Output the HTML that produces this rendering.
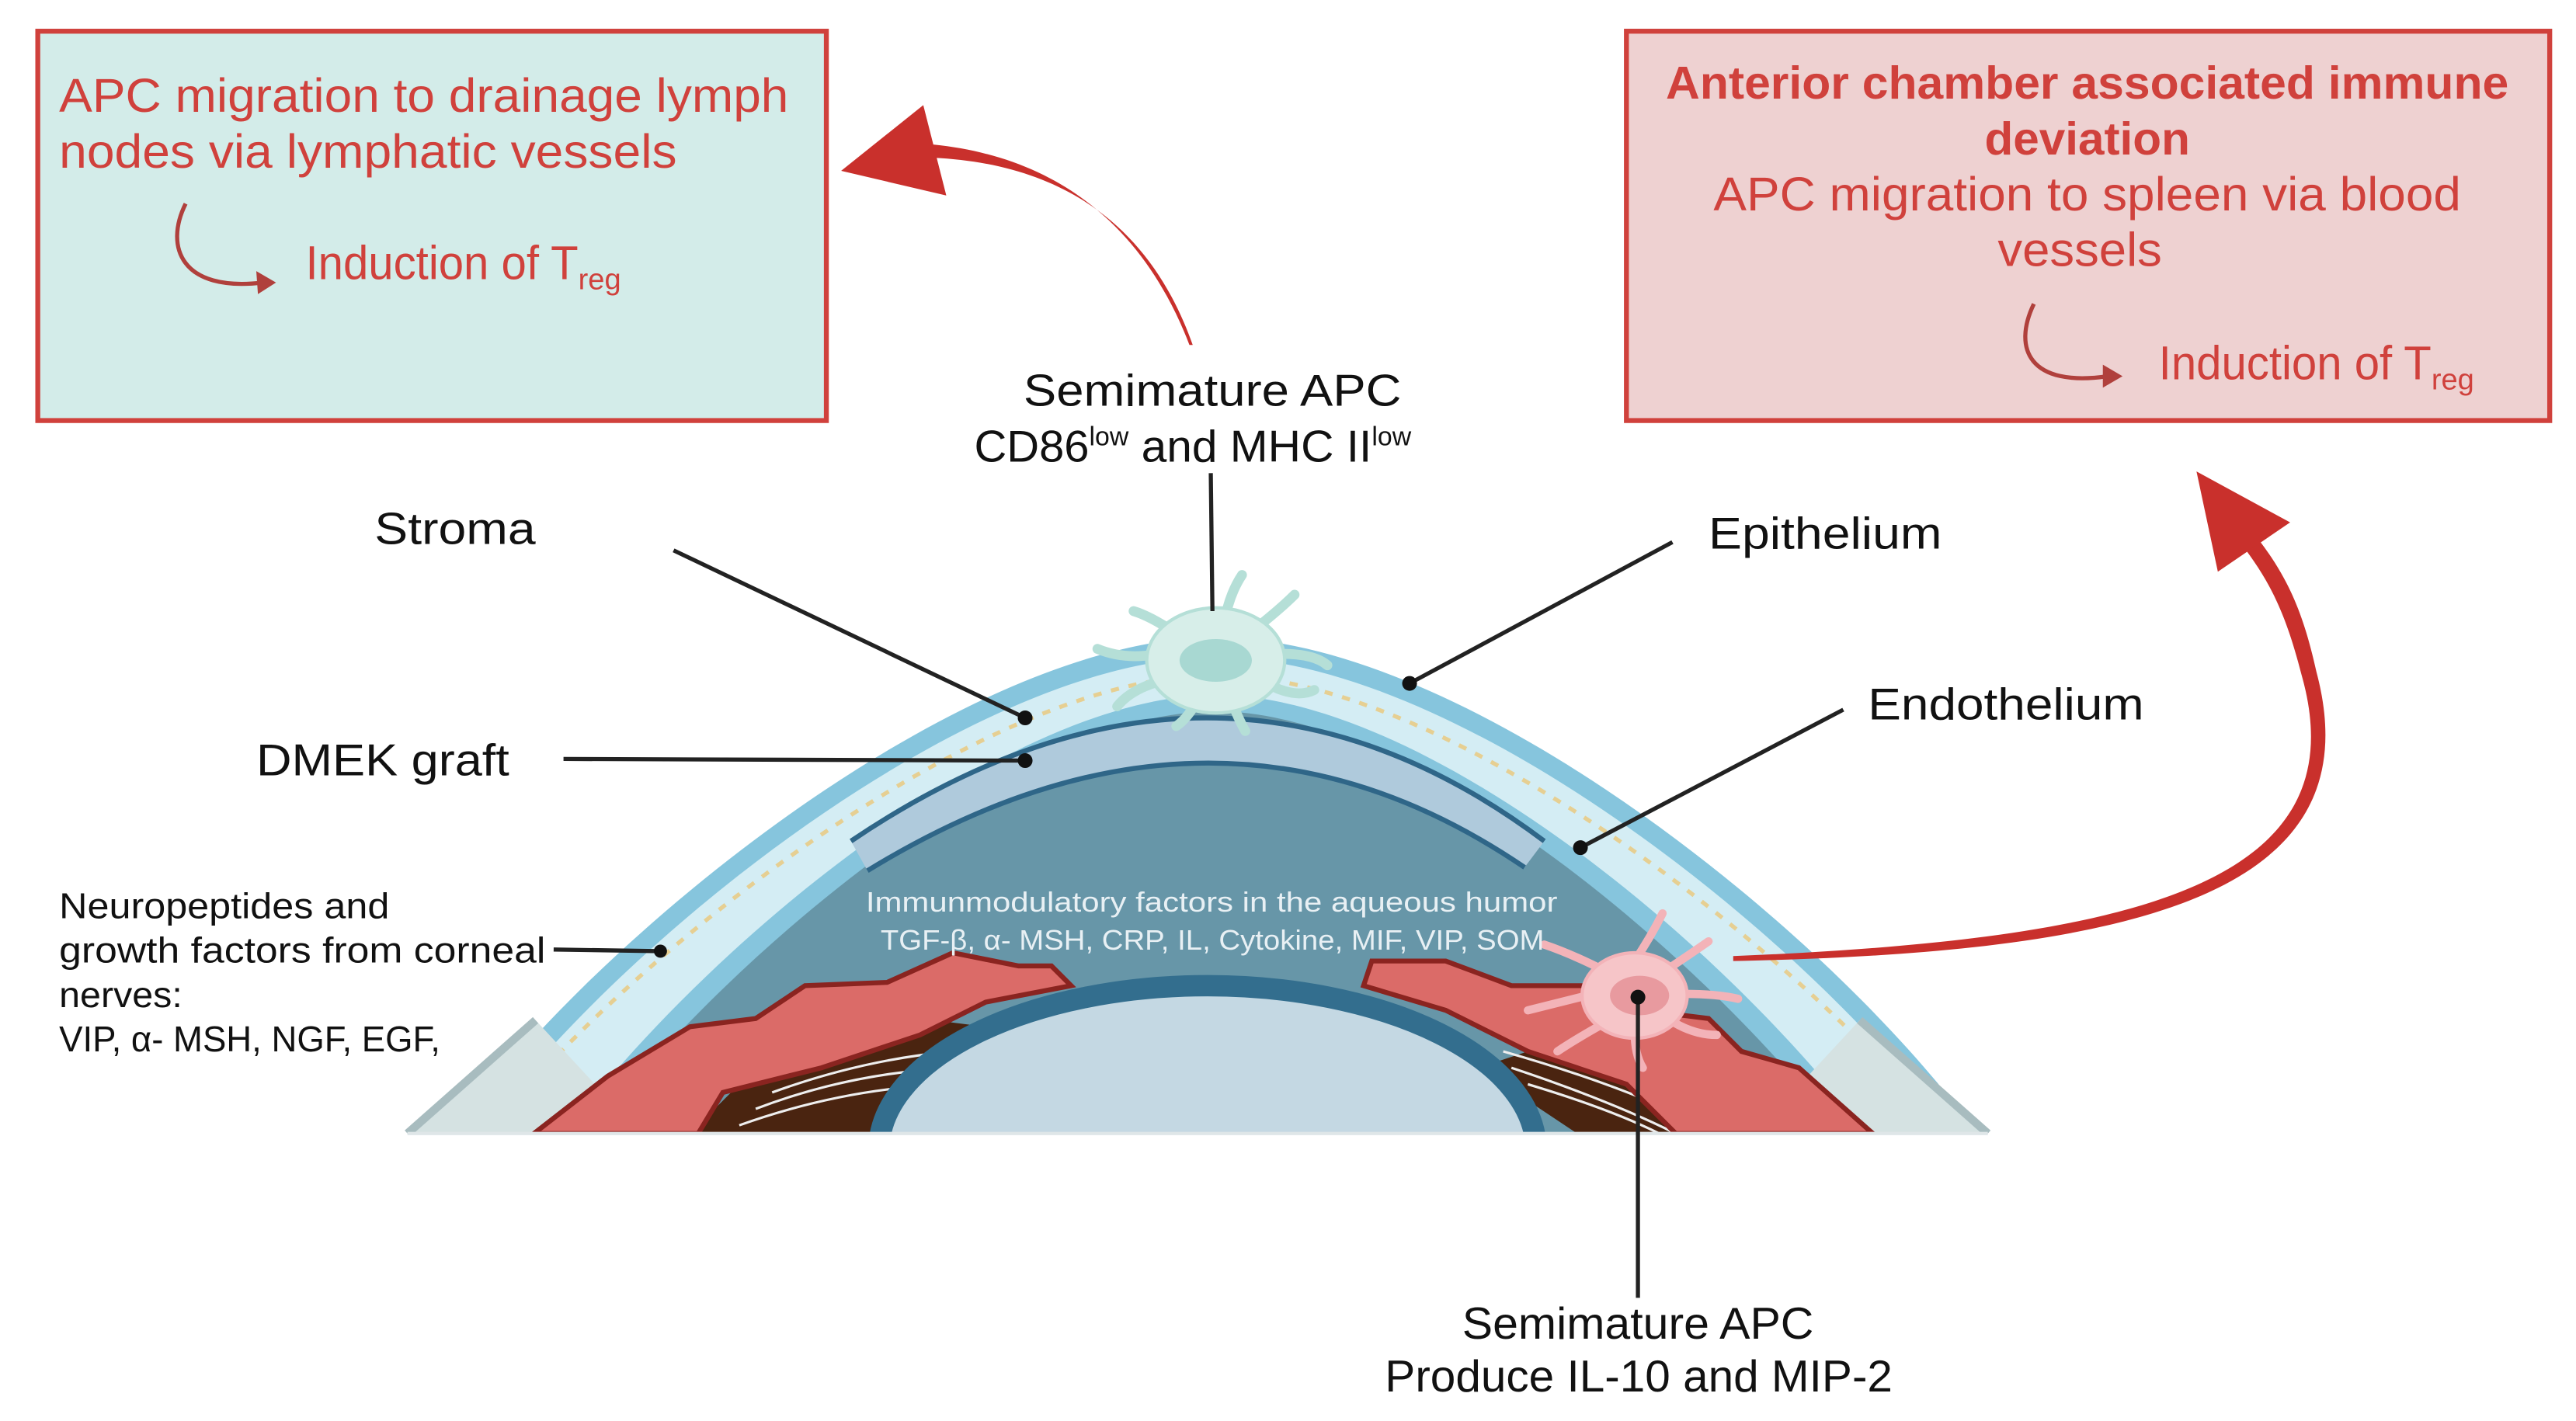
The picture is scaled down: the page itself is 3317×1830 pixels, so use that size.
<!DOCTYPE html>
<html><head><meta charset="utf-8"><style>
html,body{margin:0;padding:0;background:#fff;}
svg{display:block;}
text{font-family:"Liberation Sans",sans-serif;}
</style></head><body>
<svg width="3317" height="1830" viewBox="0 0 1568 865" preserveAspectRatio="none" xmlns="http://www.w3.org/2000/svg">
<defs>
<clipPath id="base"><rect x="0" y="0" width="1568" height="690"/></clipPath>
</defs>
<!-- Boxes -->
<rect x="23" y="19" width="480" height="237" fill="#d3ece9" stroke="#d0413c" stroke-width="3"/>
<text x="36" y="68" font-size="29" fill="#d0413c" textLength="444" lengthAdjust="spacingAndGlyphs">APC migration to drainage lymph</text>
<text x="36" y="102" font-size="29" fill="#d0413c" textLength="376" lengthAdjust="spacingAndGlyphs">nodes via lymphatic vessels</text>
<path d="M113,124 C100,150 110,178 160,172" fill="none" stroke="#b0403c" stroke-width="2.5"/>
<polygon points="168,172 156,165 157,179" fill="#b0403c"/>
<text x="186" y="170" font-size="29" fill="#d0413c"><tspan textLength="166" lengthAdjust="spacingAndGlyphs">Induction of T</tspan><tspan font-size="18" dy="6">reg</tspan></text>

<rect x="990" y="19" width="562" height="237" fill="#eed1d1" stroke="#d0413c" stroke-width="3"/>
<text x="1014" y="60" font-size="28" fill="#d0413c" font-weight="bold" textLength="513" lengthAdjust="spacingAndGlyphs">Anterior chamber associated immune</text>
<text x="1208" y="94" font-size="28" fill="#d0413c" font-weight="bold" textLength="125" lengthAdjust="spacingAndGlyphs">deviation</text>
<text x="1043" y="128" font-size="29" fill="#d0413c" textLength="455" lengthAdjust="spacingAndGlyphs">APC migration to spleen via blood</text>
<text x="1216" y="162" font-size="29" fill="#d0413c" textLength="100" lengthAdjust="spacingAndGlyphs">vessels</text>
<path d="M1238,185 C1225,212 1235,236 1283,229" fill="none" stroke="#b0403c" stroke-width="2.5"/>
<polygon points="1292,229 1280,222 1280,236" fill="#b0403c"/>
<text x="1314" y="231" font-size="29" fill="#d0413c"><tspan textLength="166" lengthAdjust="spacingAndGlyphs">Induction of T</tspan><tspan font-size="18" dy="6">reg</tspan></text>

<!-- Top arrow (tapered) -->
<path d="M724,210 C698,142 648,96 568,88 L568,96 C652,100 702,142 726,210 Z" fill="#c9302c"/>
<polygon points="512,104 562,64 576,119" fill="#c9302c"/>

<!-- Eye -->
<g clip-path="url(#base)">
<path d="M300,660 C400,540 600,388 740,388 C880,388 1080,540 1180,660 L1180,700 L300,700 Z" fill="#86c5dd"/>
<path d="M314,662 C412,545 605,400 740,400 C875,400 1068,545 1166,662 L1166,700 L314,700 Z" fill="#d4edf4"/>
<path d="M332,650 C428,548 612,411 740,411 C868,411 1052,548 1148,650" fill="none" stroke="#e6cf92" stroke-width="2.5" stroke-dasharray="5,6"/>
<path d="M336,700 C430,572 615,423 740,423 C865,423 1050,572 1144,700 Z" fill="#86c5dd"/>
<path d="M352,700 C445,578 620,433 740,433 C860,433 1035,578 1128,700 Z" fill="#6796a8"/>
<polygon points="248,690 326,621 364,662 345,690" fill="#d5e2e2"/>
<line x1="248" y1="690" x2="326" y2="621" stroke="#a8bcbf" stroke-width="5"/>
<polygon points="1210,690 1132,621 1094,662 1115,690" fill="#d5e2e2"/>
<line x1="1210" y1="690" x2="1132" y2="621" stroke="#a8bcbf" stroke-width="5"/>
<path d="M518,512 Q740,362 940,512 L928,528 Q740,400 528,530 Z" fill="#afcadc"/>
<path d="M518,512 Q740,362 940,512" fill="none" stroke="#2f6688" stroke-width="3"/>
<path d="M528,530 Q740,400 928,528" fill="none" stroke="#2f6688" stroke-width="3"/>
<path d="M420,690 L450,660 L520,640 L560,620 L600,625 L640,610 L650,650 L560,690 Z" fill="#4a2410"/>
<path d="M1060,690 L1040,650 L990,630 L930,640 L900,650 L960,690 Z" fill="#4a2410"/>
<g stroke="#eee" stroke-width="1.5" fill="none">
<path d="M450,685 Q520,660 590,660"/><path d="M460,675 Q520,652 585,650"/><path d="M470,665 Q525,645 580,640"/>
<path d="M920,650 Q980,670 1020,690"/><path d="M930,660 Q980,675 1010,690"/><path d="M915,640 Q985,660 1030,682"/>
</g>
<path d="M325,690 L370,655 L420,625 L460,620 L490,600 L540,598 L580,580 L620,588 L640,588 L652,600 L600,610 L560,630 L500,650 L440,665 L425,690 Z" fill="#db6b68" stroke="#8a2420" stroke-width="3"/>
<path d="M1140,690 L1095,650 L1060,640 L1040,620 L1000,615 L965,600 L920,600 L880,585 L835,585 L830,600 L880,615 L930,640 L990,660 L1020,690 Z" fill="#db6b68" stroke="#8a2420" stroke-width="3"/>
<ellipse cx="735" cy="700" rx="200" ry="100" fill="#c4d8e3" stroke="#336e8e" stroke-width="13"/>
</g>
<line x1="248" y1="690" x2="1210" y2="690" stroke="#dfe6e8" stroke-width="2"/>

<!-- Right arrow (tapered, over cornea) -->
<path d="M1055,582 C1300,572 1437,538 1401,411 C1391,372 1381,352 1361,327 L1369,321 C1390,347 1401,368 1410,409 C1446,544 1302,580 1055,585 Z" fill="#c9302c"/>
<polygon points="1337,287 1394,318 1350,348" fill="#c9302c"/>

<!-- Teal APC -->
<g stroke="#b5dfd7" stroke-width="6" stroke-linecap="round" fill="none">
<path d="M745,380 Q748,362 756,350"/><path d="M765,382 Q780,370 788,362"/><path d="M780,398 Q800,398 808,405"/>
<path d="M715,385 Q700,375 690,372"/><path d="M705,398 Q685,402 668,395"/><path d="M705,415 Q688,420 680,430"/>
<path d="M750,428 Q755,440 758,445"/><path d="M775,418 Q790,425 800,420"/><path d="M728,428 Q722,438 716,442"/>
</g>
<ellipse cx="740" cy="402" rx="42" ry="32" fill="#d7eee9" stroke="#b5dfd7" stroke-width="2"/>
<ellipse cx="740" cy="402" rx="22" ry="13" fill="#a8d8d2"/>
<!-- Pink APC -->
<g stroke="#f3b3b8" stroke-width="5" stroke-linecap="round" fill="none">
<path d="M995,585 Q1005,570 1012,556"/><path d="M1015,590 Q1030,580 1040,573"/><path d="M1025,605 Q1045,605 1058,608"/>
<path d="M975,590 Q955,580 940,575"/><path d="M970,605 Q950,610 930,615"/><path d="M978,622 Q960,632 948,640"/>
<path d="M995,628 Q995,642 1000,650"/><path d="M1015,620 Q1030,630 1045,630"/>
</g>
<ellipse cx="995" cy="606" rx="32" ry="26" fill="#f6c5c8" stroke="#f3b3b8" stroke-width="2"/>
<ellipse cx="998" cy="606" rx="18" ry="12" fill="#e89a9f"/>

<text x="527" y="555" font-size="17" fill="#e8f0f4" textLength="421" lengthAdjust="spacingAndGlyphs">Immunmodulatory factors in the aqueous humor</text>
<text x="536" y="578" font-size="17" fill="#e8f0f4" textLength="404" lengthAdjust="spacingAndGlyphs">TGF-β, α- MSH, CRP, IL, Cytokine, MIF, VIP, SOM</text>

<!-- Labels & leader lines -->
<g stroke="#222" stroke-width="2.5">
<line x1="737" y1="288" x2="738" y2="372"/>
<line x1="410" y1="335" x2="624" y2="437"/>
<line x1="1018" y1="330" x2="858" y2="416"/>
<line x1="1122" y1="432" x2="962" y2="516"/>
<line x1="343" y1="462" x2="624" y2="463"/>
<line x1="337" y1="578" x2="402" y2="579"/>
<line x1="997" y1="607" x2="997" y2="790"/>
</g>
<g fill="#111">
<circle cx="624" cy="437" r="4.5"/><circle cx="858" cy="416" r="4.5"/><circle cx="962" cy="516" r="4.5"/>
<circle cx="624" cy="463" r="4.5"/><circle cx="402" cy="579" r="4"/><circle cx="997" cy="607" r="4.5"/>
</g>
<g font-size="27" fill="#111">
<text x="623" y="247" textLength="230" lengthAdjust="spacingAndGlyphs">Semimature APC</text>
<text x="593" y="281"><tspan textLength="70" lengthAdjust="spacingAndGlyphs">CD86</tspan><tspan font-size="16" dy="-10">low</tspan><tspan dy="10" textLength="148" lengthAdjust="spacingAndGlyphs"> and MHC II</tspan><tspan font-size="16" dy="-10">low</tspan></text>
<text x="228" y="331" textLength="98" lengthAdjust="spacingAndGlyphs">Stroma</text>
<text x="1040" y="334" textLength="142" lengthAdjust="spacingAndGlyphs">Epithelium</text>
<text x="1137" y="438" textLength="168" lengthAdjust="spacingAndGlyphs">Endothelium</text>
<text x="156" y="472" textLength="154" lengthAdjust="spacingAndGlyphs">DMEK graft</text>
<text x="890" y="815" textLength="214" lengthAdjust="spacingAndGlyphs">Semimature APC</text>
<text x="843" y="847" textLength="309" lengthAdjust="spacingAndGlyphs">Produce IL-10 and MIP-2</text>
</g>
<g font-size="22" fill="#111">
<text x="36" y="559" textLength="201" lengthAdjust="spacingAndGlyphs">Neuropeptides and</text>
<text x="36" y="586" textLength="296" lengthAdjust="spacingAndGlyphs">growth factors from corneal</text>
<text x="36" y="613" textLength="75" lengthAdjust="spacingAndGlyphs">nerves:</text>
<text x="36" y="640" textLength="232" lengthAdjust="spacingAndGlyphs">VIP, α- MSH, NGF, EGF,</text>
</g>
</svg>
</body></html>
